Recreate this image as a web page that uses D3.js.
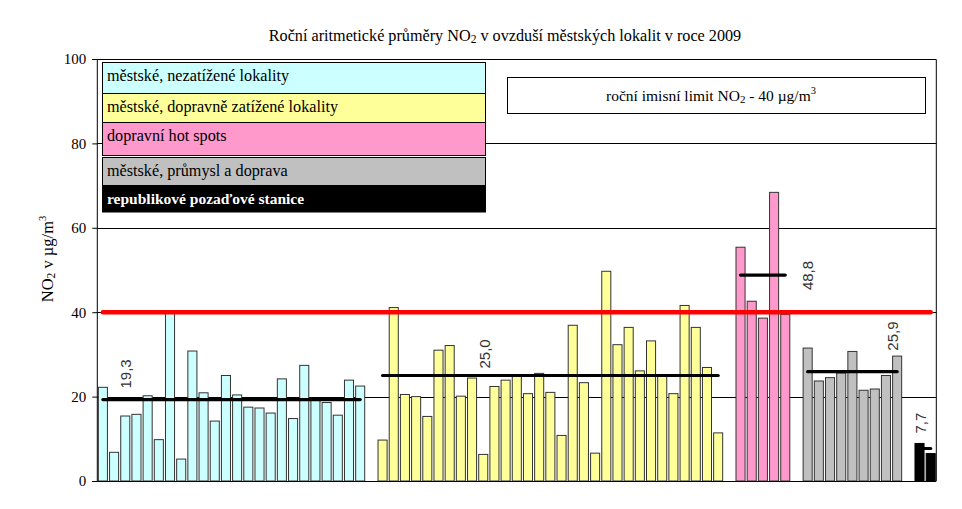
<!DOCTYPE html>
<html>
<head>
<meta charset="utf-8">
<script src="https://cdn.jsdelivr.net/npm/d3@7"></script>
<style>
  html, body { margin: 0; padding: 0; background: #fff; }
  svg { display: block; }
</style>
</head>
<body>
<script>
// ---------- data ----------
const groupNames = [
  "městské, nezatížené lokality",
  "městské, dopravně zatížené lokality",
  "dopravní hot spots",
  "městské, průmysl a doprava",
  "republikové pozaďové stanice"
];
const groupColors = ["#CCFFFF", "#FFFF99", "#FF99CC", "#C0C0C0", "#000000"];

const urbanValues = [22.2, 6.8, 15.4, 15.8, 20.2, 9.8, 40.0, 5.2, 30.8, 20.9, 14.2, 25.0,
  20.4, 17.5, 17.3, 16.1, 24.2, 14.8, 27.4, 19.5, 18.6, 15.6, 23.9, 22.5];
const trafficValues = [9.7, 41.1, 20.5, 20.0, 15.3, 31.0, 32.1, 20.1, 24.4, 6.3, 22.4, 23.9,
  24.9, 20.7, 25.5, 21.0, 10.8, 36.9, 23.3, 6.6, 49.7, 32.3, 36.4, 26.1, 33.2, 25.0,
  20.7, 41.6, 36.4, 26.9, 11.4];
const hotspotValues = [55.4, 42.6, 38.6, 68.4, 39.5];
const industryValues = [31.5, 23.7, 24.5, 25.6, 30.7, 21.5, 21.8, 25.0, 29.6];
const backgroundValues = [8.9, 6.5];

const groupMeans = [19.3, 25.0, 48.8, 25.9, 7.7];
const meanLabels = ["19,3", "25,0", "48,8", "25,9", "7,7"];
const yTicks = [0, 20, 40, 60, 80, 100];
const limitValue = 40;

const titleMain = "Roční aritmetické průměry NO";
const titleRest = " v ovzduší městských lokalit v roce 2009";
const limitText = ["roční imisní limit NO", "2", " - 40 µg/m", "3"];

// ---------- build categories ----------
const seriesValues = [urbanValues, trafficValues, hotspotValues, industryValues, backgroundValues];
const cats = [];
seriesValues.forEach((vals, g) => {
  vals.forEach((v, i) => cats.push({ key: `g${g}_${i}`, group: g, value: v }));
  if (g < seriesValues.length - 1) cats.push({ key: `gap${g}`, group: -1, value: null });
});

// ---------- layout ----------
const W = 962, H = 509;
const pL = 97.3, pR = 936.3, pT = 59, pB = 481;
const serif = "'Liberation Serif', 'DejaVu Serif', serif";
const sans = "'Liberation Sans', Arial, sans-serif";

const svg = d3.select("body").append("svg").attr("width", W).attr("height", H);
svg.append("rect").attr("width", W).attr("height", H).attr("fill", "#fff");

const x = d3.scaleBand().domain(cats.map(d => d.key)).range([pL, pR])
  .paddingInner(0.1).paddingOuter(0.05);
const y = d3.scaleLinear().domain([0, 100]).range([pB, pT]);
const cx = k => x(k) + x.bandwidth() / 2;

// gridlines
svg.append("g").selectAll("line").data(yTicks.filter(t => t > 0 && t < 100)).join("line")
  .attr("x1", pL).attr("x2", pR)
  .attr("y1", d => Math.round(y(d)) + 0.5).attr("y2", d => Math.round(y(d)) + 0.5)
  .attr("stroke", "#000").attr("stroke-width", 1);

// frame (top and right)
svg.append("path")
  .attr("d", `M${pL},${pT + 0.5}H${pR}V${pB}`)
  .attr("fill", "none").attr("stroke", "#000").attr("stroke-width", 1);

// bars
svg.append("g").selectAll("rect").data(cats.filter(d => d.group >= 0)).join("rect")
  .attr("x", d => x(d.key) + 0.5)
  .attr("y", d => y(d.value))
  .attr("width", x.bandwidth() - 1)
  .attr("height", d => y(0) - y(d.value))
  .attr("fill", d => groupColors[d.group])
  .attr("stroke", d => d.group === 4 ? "#000" : "#333")
  .attr("stroke-width", 1);

// limit line
const hLine = d3.line().x(d => d[0]).y(d => d[1]);
svg.append("path")
  .attr("d", hLine([[cx(cats[0].key), y(limitValue)], [cx(cats[cats.length - 1].key), y(limitValue)]]))
  .attr("stroke", "#FF0000").attr("stroke-width", 4.5).attr("stroke-linecap", "round").attr("fill", "none");

// mean lines
const groupCats = seriesValues.map((_, g) => cats.filter(d => d.group === g));
groupCats.forEach((gc, g) => {
  svg.append("path")
    .attr("d", hLine([[cx(gc[0].key), y(groupMeans[g])], [cx(gc[gc.length - 1].key), y(groupMeans[g])]]))
    .attr("stroke", "#000").attr("stroke-width", 3.2).attr("stroke-linecap", "round").attr("fill", "none");
});

// mean labels (rotated)
const labelAnchor = [
  { g: 0, idx: 2, dx: 0, dy: -11 },
  { g: 1, idx: 9, dx: 1, dy: -7 },
  { g: 2, idx: 4, dx: 22, dy: 15 },
  { g: 3, idx: 8, dx: -5, dy: -21 },
  { g: 4, idx: 0, dx: 1, dy: -15 }
];
labelAnchor.forEach(a => {
  const gc = groupCats[a.g];
  const px = cx(gc[a.idx].key) + a.dx;
  const py = y(groupMeans[a.g]) + a.dy;
  const gl = svg.append("g").attr("transform", `translate(${px},${py}) rotate(-90)`);
  const t = gl.append("text").attr("x", 0).attr("y", 0).attr("dy", "0.36em")
    .attr("font-family", sans).attr("font-size", 15).attr("fill", "#333")
    .text(meanLabels[a.g]);
  const bb = t.node().getBBox();
  gl.insert("rect", "text").attr("x", bb.x - 2).attr("y", bb.y - 1)
    .attr("width", bb.width + 4).attr("height", bb.height + 2).attr("fill", "#fff");
});

// y axis
const yAxis = d3.axisLeft(y).tickValues(yTicks).tickSize(5).tickPadding(6).tickFormat(d3.format("d"));
const ga = svg.append("g").attr("transform", `translate(${pL},0)`).call(yAxis);
ga.select(".domain").attr("d", `M-5,${pT + 0.5}H0V${pB + 0.5}H-5`).attr("stroke", "#000");
ga.selectAll(".tick line").attr("stroke", "#000");
ga.selectAll(".tick text").attr("font-family", serif).attr("font-size", 15).attr("fill", "#000");
// x axis baseline
svg.append("line").attr("x1", pL).attr("x2", pR).attr("y1", pB + 0.5).attr("y2", pB + 0.5)
  .attr("stroke", "#000");

// y axis title
const yt = svg.append("text").attr("transform", `translate(53,259) rotate(-90)`)
  .attr("text-anchor", "middle").attr("font-family", serif).attr("font-size", 16.5).attr("fill", "#000");
yt.append("tspan").text("NO");
yt.append("tspan").attr("font-size", 11.5).attr("dy", 2).text("2");
yt.append("tspan").attr("dy", -2).text(" v µg/m");
yt.append("tspan").attr("font-size", 10.5).attr("dy", -7).text("3");

// title
const tt = svg.append("text").attr("x", 505).attr("y", 41).attr("text-anchor", "middle")
  .attr("font-family", serif).attr("font-size", 16.2).attr("fill", "#000");
tt.append("tspan").text(titleMain);
tt.append("tspan").attr("font-size", 11.5).attr("dy", 2).text("2");
tt.append("tspan").attr("dy", -2).text(titleRest);

// legend boxes
const rowY = [62.5, 93.5, 122.5, 157.5, 185.5, 212];
const rowBottom = [93.5, 122.5, 155.5, 185.5, 212];
const lg = svg.append("g");
groupNames.forEach((name, i) => {
  lg.append("rect").attr("x", 102.5).attr("y", rowY[i]).attr("width", 383)
    .attr("height", rowBottom[i] - rowY[i]).attr("fill", groupColors[i]).attr("stroke", "#000");
  lg.append("text").attr("x", 107).attr("y", rowY[i] + 18)
    .attr("font-family", serif).attr("font-size", i === 4 ? 15.5 : 16.2)
    .attr("font-weight", i === 4 ? "bold" : "normal")
    .attr("fill", i === 4 ? "#fff" : "#000").text(name);
});

// limit legend box
svg.append("rect").attr("x", 507.5).attr("y", 77.5).attr("width", 418).attr("height", 36)
  .attr("fill", "#fff").attr("stroke", "#000");
const lt = svg.append("text").attr("x", 711).attr("y", 101).attr("text-anchor", "middle")
  .attr("font-family", serif).attr("font-size", 15.5).attr("fill", "#000");
lt.append("tspan").text(limitText[0]);
lt.append("tspan").attr("font-size", 11).attr("dy", 2).text(limitText[1]);
lt.append("tspan").attr("dy", -2).text(limitText[2]);
lt.append("tspan").attr("font-size", 10.5).attr("dy", -7).text(limitText[3]);
</script>
</body>
</html>
